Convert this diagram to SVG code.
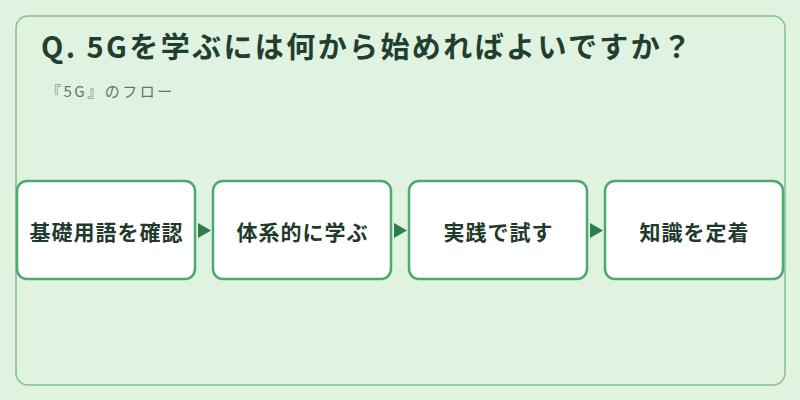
<svg xmlns="http://www.w3.org/2000/svg" width="800" height="400" viewBox="0 0 800 400">
<style>
.box{fill:#ffffff;stroke:#4fa86e;stroke-width:2.5}
.lbl{font-family:"Noto Sans CJK JP","Noto Sans",sans-serif;font-weight:bold;font-size:21px;letter-spacing:1px;fill:#1f3a2d;text-anchor:middle;dominant-baseline:central}
.arr{fill:#2f7d4c}
</style>
<rect x="0" y="0" width="800" height="400" fill="#e0f2e0"/>
<rect x="16" y="16" width="769" height="369" rx="12" fill="#e0f2e0" stroke="#7fbf94" stroke-width="1.5"/>
<text x="41" y="58" font-family="Noto Sans CJK JP,Noto Sans,sans-serif" font-weight="bold" font-size="29" letter-spacing="2.4" fill="#1f3f30">Q. 5Gを学ぶには何から始めればよいですか？</text>
<text x="46" y="97" font-family="Noto Sans CJK JP,Noto Sans,sans-serif" font-size="15" letter-spacing="2.5" fill="#707070">『5G』のフロー</text>
<g id="connectors">
<polygon class="arr" points="198,223 211,230.5 198,238"/>
<polygon class="arr" points="394,223 407,230.5 394,238"/>
<polygon class="arr" points="590,223 603,230.5 590,238"/>
</g>
<g id="n1"><rect class="box" x="17" y="181" width="178" height="98" rx="10"/><text class="lbl" x="106.5" y="231">基礎用語を確認</text></g>
<g id="n2"><rect class="box" x="213" y="181" width="178" height="98" rx="10"/><text class="lbl" x="302.5" y="231">体系的に学ぶ</text></g>
<g id="n3"><rect class="box" x="409" y="181" width="178" height="98" rx="10"/><text class="lbl" x="498.5" y="231">実践で試す</text></g>
<g id="n4"><rect class="box" x="605" y="181" width="178" height="98" rx="10"/><text class="lbl" x="694.5" y="231">知識を定着</text></g>
</svg>
